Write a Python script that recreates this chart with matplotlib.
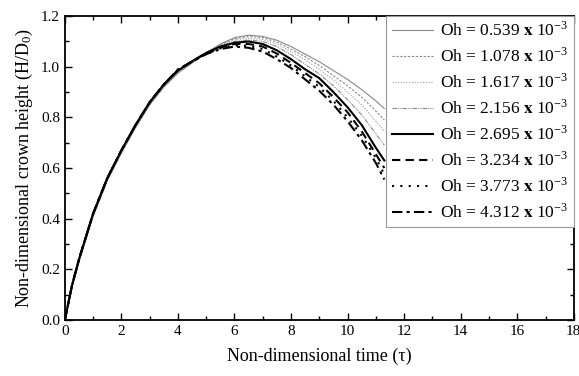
import numpy as np
import matplotlib.pyplot as plt

plt.rcParams['font.family'] = ['Liberation Serif', 'DejaVu Serif']
plt.rcParams['mathtext.fontset'] = 'stix'

# sampled time points (tau)
tau = [0, 0.25, 0.5, 1, 1.5, 2, 2.5, 3, 3.5, 4, 4.5, 5, 5.5, 6, 6.5, 7, 7.5,
       8, 8.5, 9, 9.5, 10, 10.5, 11, 11.3]

oh_labels = ['0.539', '1.078', '1.617', '2.156', '2.695', '3.234', '3.773', '4.312']

h_0539 = [0, 0.13, 0.23, 0.41, 0.55, 0.66, 0.76, 0.85, 0.92, 0.975, 1.015, 1.055, 1.09,
          1.115, 1.125, 1.12, 1.105, 1.08, 1.05, 1.02, 0.985, 0.95, 0.91, 0.865, 0.835]
h_1078 = [0, 0.13, 0.23, 0.41, 0.55, 0.66, 0.76, 0.85, 0.92, 0.977, 1.017, 1.055, 1.088,
          1.11, 1.12, 1.115, 1.098, 1.07, 1.04, 1.005, 0.965, 0.925, 0.88, 0.825, 0.79]
h_1617 = [0, 0.13, 0.235, 0.415, 0.555, 0.665, 0.765, 0.855, 0.925, 0.98, 1.018, 1.055, 1.086,
          1.106, 1.113, 1.108, 1.09, 1.06, 1.028, 0.99, 0.948, 0.9, 0.85, 0.785, 0.745]
h_2156 = [0, 0.135, 0.235, 0.415, 0.555, 0.665, 0.765, 0.855, 0.925, 0.982, 1.02, 1.055, 1.083,
          1.1, 1.106, 1.1, 1.08, 1.048, 1.01, 0.972, 0.925, 0.87, 0.81, 0.735, 0.69]
h_2695 = [0, 0.135, 0.24, 0.42, 0.56, 0.67, 0.77, 0.86, 0.93, 0.985, 1.022, 1.055, 1.08,
          1.095, 1.1, 1.09, 1.065, 1.03, 0.99, 0.955, 0.9, 0.84, 0.77, 0.68, 0.63]
h_3234 = [0, 0.135, 0.24, 0.42, 0.56, 0.67, 0.77, 0.86, 0.93, 0.987, 1.022, 1.053, 1.076,
          1.09, 1.09, 1.08, 1.052, 1.015, 0.975, 0.935, 0.88, 0.82, 0.745, 0.655, 0.6]
h_3773 = [0, 0.135, 0.24, 0.42, 0.56, 0.67, 0.77, 0.86, 0.93, 0.988, 1.021, 1.051, 1.073,
          1.085, 1.083, 1.07, 1.04, 1.005, 0.962, 0.92, 0.865, 0.8, 0.728, 0.64, 0.575]
h_4312 = [0, 0.135, 0.24, 0.42, 0.56, 0.67, 0.77, 0.86, 0.93, 0.99, 1.02, 1.05, 1.07,
          1.08, 1.075, 1.06, 1.03, 0.995, 0.95, 0.905, 0.85, 0.785, 0.71, 0.62, 0.555]

series = [h_0539, h_1078, h_1617, h_2156, h_2695, h_3234, h_3773, h_4312]
colors = ['#8a8a8a', '#8a8a8a', '#9a9a9a', '#8a8a8a', 'black', 'black', 'black', 'black']
styles = ['-', (0, (2, 1.5)), (0, (1, 1.5)), (0, (4, 1, 1, 1, 1, 1)),
          '-', (0, (4, 2.5)), (0, (1, 3)), (0, (5, 2, 1.5, 2))]
widths = [0.8, 0.8, 0.8, 0.8, 1.5, 1.5, 1.5, 1.5]

fig, ax = plt.subplots(figsize=(5.79, 3.76), dpi=100)
fig.subplots_adjust(left=0.112, right=0.991, top=0.957, bottom=0.149)

for h, lab, c, ls, lw in zip(series, oh_labels, colors, styles, widths):
    ax.plot(tau, h, color=c, linestyle=ls, linewidth=lw,
            label=r'Oh = %s $\mathbf{x}$ 10$^{\mathregular{-3}}$' % lab)

ax.set_xlim(0, 18)
ax.set_ylim(0, 1.2)
ax.set_xticks(np.arange(0, 19, 2))
ax.set_xticks(np.arange(1, 18, 2), minor=True)
ax.set_yticks(np.arange(0, 1.21, 0.2))
ax.set_yticks(np.arange(0.1, 1.2, 0.2), minor=True)
ax.yaxis.set_major_formatter(plt.FormatStrFormatter('%.1f'))
ax.tick_params(which='both', direction='in', top=True, right=True, labelsize=11)
ax.tick_params(which='major', length=5, width=1)
ax.tick_params(which='minor', length=3, width=1)
for sp in ax.spines.values():
    sp.set_linewidth(1.3)

ax.set_xlabel('Non-dimensional time (τ)', fontsize=13, labelpad=7)
ax.set_ylabel(r'Non-dimensional crown height (H/D$_{\mathregular{0}}$)', fontsize=13)

leg = ax.legend(loc='upper right', fontsize=12.5, frameon=True, fancybox=False,
                borderaxespad=0, handlelength=2.4, labelspacing=0.42,
                handletextpad=0.4, borderpad=0.3)
leg.get_frame().set_edgecolor('#999999')
leg.get_frame().set_linewidth(0.8)
leg.get_frame().set_alpha(1)

fig.savefig('out.png', dpi=100)
